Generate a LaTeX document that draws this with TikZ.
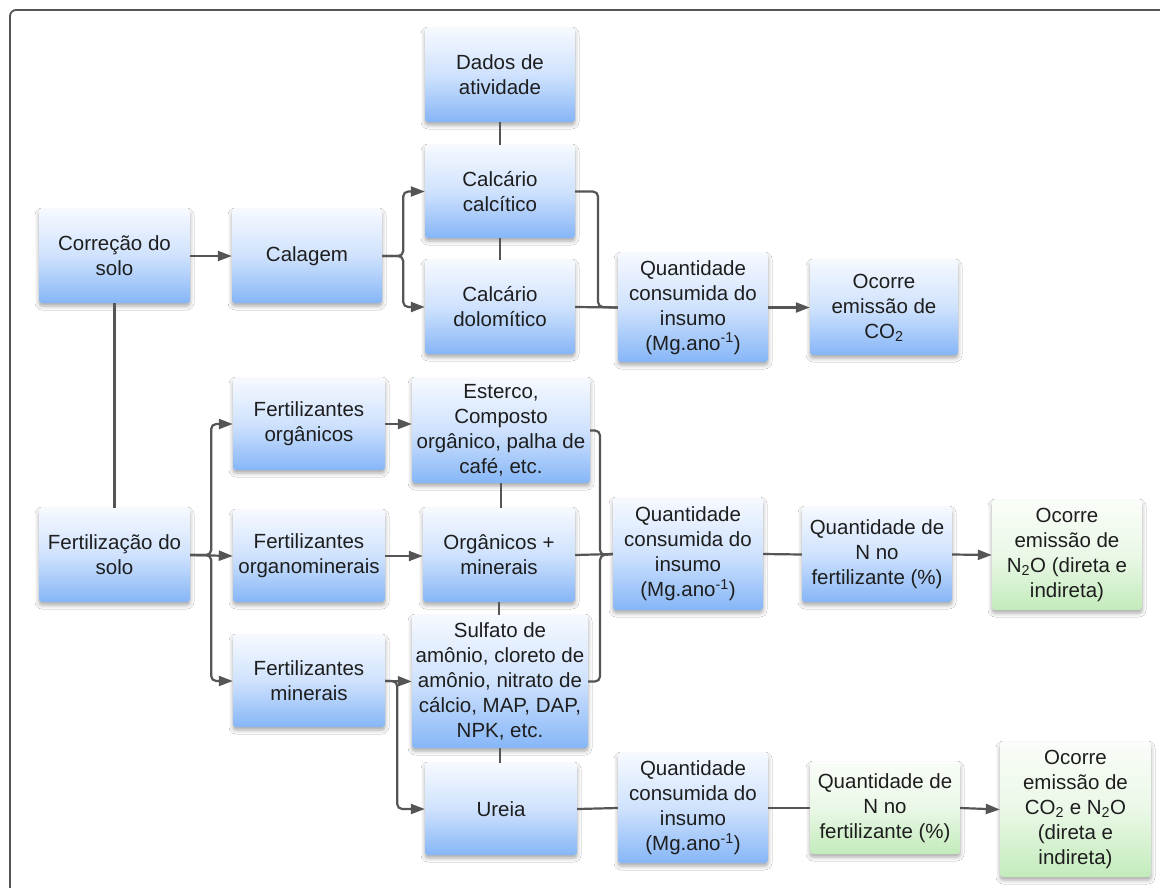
\documentclass[tikz,border=0pt]{standalone}
\usepackage{fontspec}
\setmainfont{Liberation Sans}
\usetikzlibrary{arrows.meta,shadows.blur}
\definecolor{linegray}{HTML}{555555}
\definecolor{txt}{HTML}{1E1E1E}
\definecolor{bluetop}{HTML}{F6F9FF}
\definecolor{bluemid}{HTML}{CFE2FD}
\definecolor{bluebot}{HTML}{86B6F7}
\definecolor{greentop}{HTML}{FAFDF9}
\definecolor{greenmid}{HTML}{EAF8E7}
\definecolor{greenbot}{HTML}{C3EBBB}
\begin{document}
\begin{tikzpicture}[x=1pt,y=-1pt,
  card/.style={rounded corners=3pt, align=center, inner sep=1pt,
    text=txt, font=\fontsize{20.5}{25}\selectfont,
    blur shadow={shadow xshift=0pt, shadow yshift=-3pt, shadow blur radius=4pt, shadow opacity=35}},
  bluecard/.style={card, top color=bluetop, bottom color=bluebot, middle color=bluemid},
  greencard/.style={card, top color=greentop, bottom color=greenbot, middle color=greenmid},
  link/.style={draw=linegray, line width=2.2pt, rounded corners=5pt},
  arrowlink/.style={link, -{Triangle[length=14pt,width=10pt]}}]
\useasboundingbox (0,0) rectangle (1160,887);
\clip (0,0) rectangle (1160,887);
\fill[white] (0,0) rectangle (1160,887);
% outer frame
\draw[linegray, line width=1.8pt, rounded corners=6pt] (10,10) rectangle (1190,910);

% boxes
\node[bluecard, minimum width=150, minimum height=94] (dados) at (500,75) {Dados de\\atividade};
\node[bluecard, minimum width=150, minimum height=93] (calcitico) at (500,191.5) {Calcário\\calcítico};
\node[bluecard, minimum width=150, minimum height=94] (dolomitico) at (500,307) {Calcário\\dolomítico};
\node[bluecard, minimum width=151, minimum height=94] (correcao) at (114.5,256) {Correção do\\solo};
\node[bluecard, minimum width=150, minimum height=94] (calagem) at (307,256) {Calagem};
\node[bluecard, minimum width=150, minimum height=109] (qtd1) at (693,307.5) {Quantidade\\consumida do\\insumo\\(Mg.ano\textsuperscript{-1})};
\node[bluecard, minimum width=148, minimum height=95] (co2) at (884,307.5) {Ocorre\\emissão de\\CO\textsubscript{2}};

\node[bluecard, minimum width=152, minimum height=92] (fertorg) at (309,424) {Fertilizantes\\orgânicos};
\node[bluecard, minimum width=178, minimum height=105] (esterco) at (501,430.5) {Esterco,\\Composto\\orgânico, palha de\\café, etc.};
\node[bluecard, minimum width=151, minimum height=94] (fertilizacao) at (114.5,555) {Fertilização do\\solo};
\node[bluecard, minimum width=152, minimum height=92] (fertorgmin) at (309,556) {Fertilizantes\\organominerais};
\node[bluecard, minimum width=152, minimum height=94] (orgmin) at (499,555) {Orgânicos +\\minerais};
\node[bluecard, minimum width=150, minimum height=112] (qtd2) at (688,554) {Quantidade\\consumida do\\insumo\\(Mg.ano\textsuperscript{-1})};
\node[bluecard, minimum width=150, minimum height=95] (n2) at (877,554.5) {Quantidade de\\N no\\fertilizante (\%)};
\node[greencard, minimum width=150, minimum height=110] (n2o) at (1067,555) {Ocorre\\emissão de\\N\textsubscript{2}O (direta e\\indireta)};

\node[bluecard, minimum width=152, minimum height=92] (fertmin) at (309,681) {Fertilizantes\\minerais};
\node[bluecard, minimum width=176, minimum height=133] (sulfato) at (500,681.5) {Sulfato de\\amônio, cloreto de\\amônio, nitrato de\\cálcio, MAP, DAP,\\NPK, etc.};
\node[bluecard, minimum width=152, minimum height=92] (ureia) at (501,809) {Ureia};
\node[bluecard, minimum width=150, minimum height=110] (qtd3) at (693,808) {Quantidade\\consumida do\\insumo\\(Mg.ano\textsuperscript{-1})};
\node[greencard, minimum width=150, minimum height=92] (n3) at (885,808) {Quantidade de\\N no\\fertilizante (\%)};
\node[greencard, minimum width=151, minimum height=135] (co2n2o) at (1075.5,809.5) {Ocorre\\emissão de\\CO\textsubscript{2} e N\textsubscript{2}O\\(direta e\\indireta)};

% junction points
\coordinate (limebus) at (598,307);
\coordinate (fertbus) at (600,555);

% soil correction branch
\draw[link] (dados.south) -- (calcitico.north);
\draw[link] (calcitico.south) -- (dolomitico.north);
\draw[arrowlink] (correcao.east) -- (calagem.west);
\draw[link] (correcao.south) -- (fertilizacao.north);
\draw[arrowlink] (calagem.east) -- ++(21,0) |- (calcitico.west);
\draw[arrowlink] (calagem.east) -- ++(21,0) |- (dolomitico.west);
\draw[link] (calcitico.east) -| (limebus) -- (qtd1.west);
\draw[link] (dolomitico.east) -- (qtd1.west);
\draw[arrowlink] (qtd1.east) -- (co2.west);

% fertilization branch
\draw[arrowlink] (fertilizacao.east) -- ++(21,0) |- (fertorg.west);
\draw[arrowlink] (fertilizacao.east) -- (fertorgmin.west);
\draw[arrowlink] (fertilizacao.east) -- ++(21,0) |- (fertmin.west);
\draw[arrowlink] (fertorg.east) -- (fertorg.east -| esterco.west);
\draw[arrowlink] (fertorgmin.east) -- (fertorgmin.east -| orgmin.west);
\draw[arrowlink] (fertmin.east) -- (sulfato.west);
\draw[arrowlink] (fertmin.east) -- ++(12,0) |- (ureia.west);
\draw[link] (esterco.south) -- (esterco.south |- orgmin.north);
\draw[link] (orgmin.south) -- (orgmin.south |- sulfato.north);
\draw[link] (sulfato.south) -- (sulfato.south |- ureia.north);
\draw[link] (esterco.east) -| (fertbus) -- (qtd2.west);
\draw[link] (sulfato.east) -| (fertbus) -- (qtd2.west);
\draw[link] (orgmin.east) -- (qtd2.west);
\draw[link] (qtd2.east) -- (n2.west);
\draw[arrowlink] (n2.east) -- (n2o.west);
\draw[link] (ureia.east) -- (qtd3.west);
\draw[link] (qtd3.east) -- (n3.west);
\draw[arrowlink] (n3.east) -- (co2n2o.west);
\end{tikzpicture}
\end{document}
